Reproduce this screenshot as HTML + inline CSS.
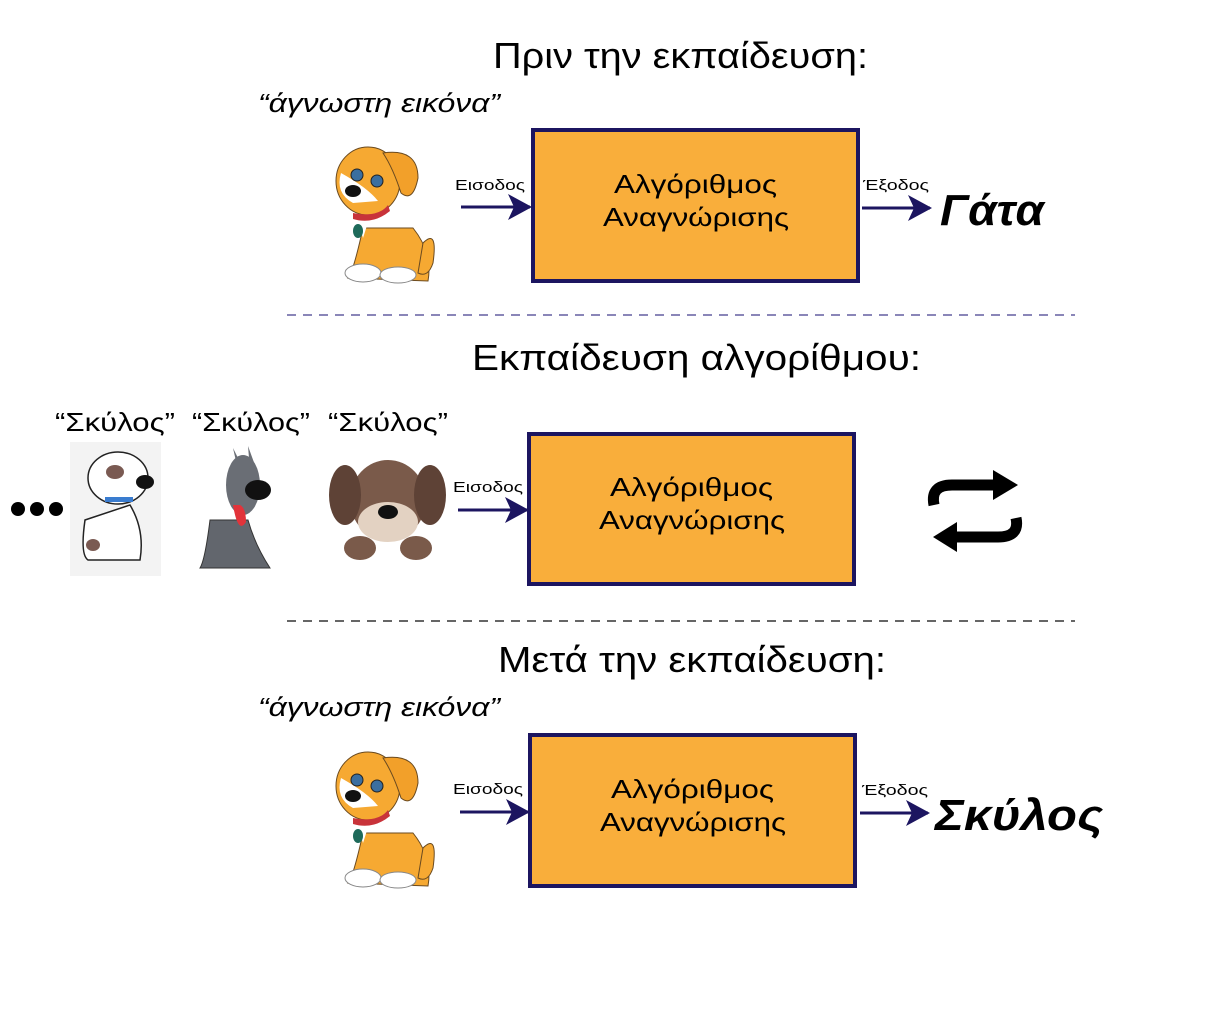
<!DOCTYPE html>
<html><head><meta charset="utf-8"><style>
html,body{margin:0;padding:0;background:#fff;}
svg{display:block;}
text{font-family:"Liberation Sans","DejaVu Sans",sans-serif;}
</style></head><body>
<svg width="1231" height="1034" viewBox="0 0 1231 1034" xmlns="http://www.w3.org/2000/svg">
<defs>
<marker id="ah" markerWidth="24" markerHeight="26" refX="22" refY="13" orient="auto" markerUnits="userSpaceOnUse"><path d="M0,0 L24,13 L0,26 L6,13 z" fill="#1c1560"/></marker>
<g id="odog">
  <path d="M30,95 Q20,140 15,145 L95,148 Q100,120 80,95 Z" fill="#f6a932" stroke="#6a4a20" stroke-width="1"/>
  <path d="M90,110 Q105,95 100,130 Q95,145 85,140 Z" fill="#f6a932" stroke="#6a4a20" stroke-width="1"/>
  <ellipse cx="30" cy="140" rx="18" ry="9" fill="#fff" stroke="#888" stroke-width="1"/>
  <ellipse cx="65" cy="142" rx="18" ry="8" fill="#fff" stroke="#888" stroke-width="1"/>
  <path d="M22,80 L30,105 L38,80 Z" fill="#fff"/>
  <ellipse cx="35" cy="48" rx="32" ry="34" fill="#f6a932" stroke="#6a4a20" stroke-width="1"/>
  <path d="M50,20 Q85,15 85,45 Q80,70 68,60 Q60,35 50,20 Z" fill="#f2a02a" stroke="#6a4a20" stroke-width="1"/>
  <path d="M8,40 Q2,60 20,70 L45,68 Q35,55 8,40 Z" fill="#fff"/>
  <circle cx="24" cy="42" r="6" fill="#3b6fa0" stroke="#222"/>
  <circle cx="44" cy="48" r="6" fill="#3b6fa0" stroke="#222"/>
  <ellipse cx="20" cy="58" rx="8" ry="6" fill="#111"/>
  <path d="M20,80 Q45,85 55,72 L57,78 Q40,92 20,86 Z" fill="#c8333a"/>
  <ellipse cx="25" cy="98" rx="5" ry="7" fill="#1e6a5a"/>
</g>
</defs>

<text x="493" y="68" font-size="36" textLength="375" lengthAdjust="spacingAndGlyphs" fill="#000">Πριν την εκπαίδευση:</text>
<text x="258" y="112" font-size="26" font-style="italic" textLength="242" lengthAdjust="spacingAndGlyphs">“άγνωστη εικόνα”</text>
<use href="#odog" x="333" y="133"/>
<rect x="533" y="130" width="325" height="151" fill="#f9ae3b" stroke="#1c1560" stroke-width="4"/>
<text x="614" y="193" font-size="26" textLength="163" lengthAdjust="spacingAndGlyphs">Αλγόριθμος</text>
<text x="603" y="226" font-size="26" textLength="186" lengthAdjust="spacingAndGlyphs">Αναγνώρισης</text>
<text x="455" y="190" font-size="15" textLength="70" lengthAdjust="spacingAndGlyphs">Εισοδος</text>
<line x1="461" y1="207" x2="530" y2="207" stroke="#1c1560" stroke-width="3" marker-end="url(#ah)"/>
<text x="863" y="190" font-size="15" textLength="66" lengthAdjust="spacingAndGlyphs">Έξοδος</text>
<line x1="862" y1="208" x2="930" y2="208" stroke="#1c1560" stroke-width="3" marker-end="url(#ah)"/>
<text x="940" y="225" font-size="44" font-weight="bold" font-style="italic" textLength="104" lengthAdjust="spacingAndGlyphs">Γάτα</text>

<line x1="287" y1="315" x2="1075" y2="315" stroke="#8a86b8" stroke-width="2" stroke-dasharray="9,7"/>

<text x="472" y="370" font-size="36" textLength="449" lengthAdjust="spacingAndGlyphs">Εκπαίδευση αλγορίθμου:</text>
<text x="55" y="431" font-size="26" textLength="120" lengthAdjust="spacingAndGlyphs">“Σκύλος”</text>
<text x="192" y="431" font-size="26" textLength="118" lengthAdjust="spacingAndGlyphs">“Σκύλος”</text>
<text x="328" y="431" font-size="26" textLength="120" lengthAdjust="spacingAndGlyphs">“Σκύλος”</text>
<circle cx="18" cy="509" r="7"/><circle cx="37" cy="509" r="7"/><circle cx="56" cy="509" r="7"/>
<rect x="70" y="442" width="91" height="134" fill="#f3f3f3"/>
<path d="M85,520 Q80,555 88,560 L140,560 Q145,530 130,505 Z" fill="#fff" stroke="#222" stroke-width="1.5"/>
<ellipse cx="118" cy="478" rx="30" ry="26" fill="#fff" stroke="#222" stroke-width="1.5"/>
<ellipse cx="115" cy="472" rx="9" ry="7" fill="#7a5a52"/>
<ellipse cx="145" cy="482" rx="9" ry="7" fill="#111"/>
<rect x="105" y="497" width="28" height="5" fill="#3a7ccf"/>
<ellipse cx="93" cy="545" rx="7" ry="6" fill="#7a5a52"/>
<path d="M210,520 Q205,560 200,568 L270,568 Q255,545 248,520 Z" fill="#62666d" stroke="#333"/>
<ellipse cx="243" cy="485" rx="17" ry="30" fill="#6a6e75"/>
<path d="M233,448 L238,470 L244,470 Z M248,446 L250,470 L256,468 Z" fill="#6a6e75"/>
<ellipse cx="258" cy="490" rx="13" ry="10" fill="#111"/>
<path d="M233,505 Q238,535 246,522 Q246,508 240,505 Z" fill="#e2333a"/>
<ellipse cx="388" cy="500" rx="38" ry="40" fill="#7a5a4a"/>
<ellipse cx="345" cy="495" rx="16" ry="30" fill="#5e4236"/>
<ellipse cx="430" cy="495" rx="16" ry="30" fill="#5e4236"/>
<ellipse cx="388" cy="522" rx="30" ry="20" fill="#e3d2c2"/>
<ellipse cx="388" cy="512" rx="10" ry="7" fill="#111"/>
<ellipse cx="360" cy="548" rx="16" ry="12" fill="#7a5a4a"/>
<ellipse cx="416" cy="548" rx="16" ry="12" fill="#7a5a4a"/>

<rect x="529" y="434" width="325" height="150" fill="#f9ae3b" stroke="#1c1560" stroke-width="4"/>
<text x="610" y="496" font-size="26" textLength="163" lengthAdjust="spacingAndGlyphs">Αλγόριθμος</text>
<text x="599" y="529" font-size="26" textLength="186" lengthAdjust="spacingAndGlyphs">Αναγνώρισης</text>
<text x="453" y="492" font-size="15" textLength="70" lengthAdjust="spacingAndGlyphs">Εισοδος</text>
<line x1="458" y1="510" x2="527" y2="510" stroke="#1c1560" stroke-width="3" marker-end="url(#ah)"/>
<g fill="none" stroke="#000" stroke-width="11">
  <path d="M934,505 Q930,485 952,485 L1000,485"/>
  <path d="M1016,518 Q1020,537 998,537 L950,537"/>
</g>
<path d="M993,470 L1018,485 L993,500 Z" fill="#000"/>
<path d="M957,522 L933,537 L957,552 Z" fill="#000"/>

<line x1="287" y1="621" x2="1075" y2="621" stroke="#333" stroke-width="1.5" stroke-dasharray="9,7"/>

<text x="498" y="672" font-size="36" textLength="388" lengthAdjust="spacingAndGlyphs">Μετά την εκπαίδευση:</text>
<text x="258" y="716" font-size="26" font-style="italic" textLength="242" lengthAdjust="spacingAndGlyphs">“άγνωστη εικόνα”</text>
<use href="#odog" x="333" y="738"/>
<rect x="530" y="735" width="325" height="151" fill="#f9ae3b" stroke="#1c1560" stroke-width="4"/>
<text x="611" y="798" font-size="26" textLength="163" lengthAdjust="spacingAndGlyphs">Αλγόριθμος</text>
<text x="600" y="831" font-size="26" textLength="186" lengthAdjust="spacingAndGlyphs">Αναγνώρισης</text>
<text x="453" y="794" font-size="15" textLength="70" lengthAdjust="spacingAndGlyphs">Εισοδος</text>
<line x1="460" y1="812" x2="528" y2="812" stroke="#1c1560" stroke-width="3" marker-end="url(#ah)"/>
<text x="862" y="795" font-size="15" textLength="66" lengthAdjust="spacingAndGlyphs">Έξοδος</text>
<line x1="860" y1="813" x2="928" y2="813" stroke="#1c1560" stroke-width="3" marker-end="url(#ah)"/>
<text x="935" y="830" font-size="44" font-weight="bold" font-style="italic" textLength="168" lengthAdjust="spacingAndGlyphs">Σκύλος</text>
</svg>
</body></html>
